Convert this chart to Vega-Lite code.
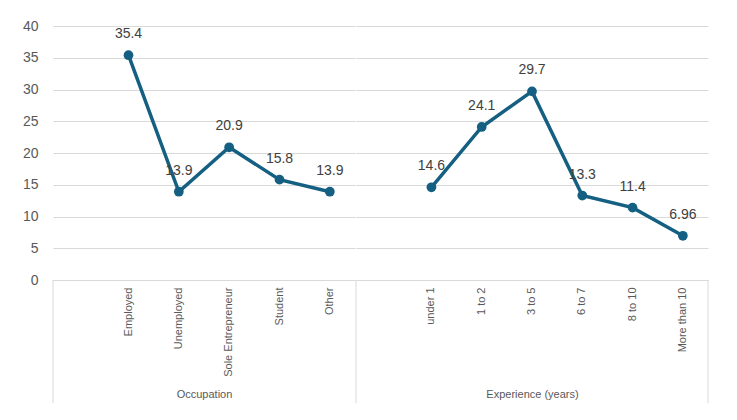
{
  "$schema": "https://vega.github.io/schema/vega-lite/v6.json",
  "background": "white",
  "padding": {"left": 22, "top": 19, "right": 10, "bottom": 5},
  "spacing": 0,
  "config": {
    "view": {"stroke": null},
    "font": "Liberation Sans",
    "axis": {
      "labelFont": "Liberation Sans",
      "titleFont": "Liberation Sans",
      "labelColor": "#595959",
      "titleColor": "#595959",
      "titleFontWeight": "normal",
      "gridColor": "#d9d9d9",
      "domainColor": "#d9d9d9",
      "tickColor": "#d9d9d9"
    }
  },
  "datasets": {
    "occ": [
      {"cat": "Employed", "value": 35.4},
      {"cat": "Unemployed", "value": 13.9},
      {"cat": "Sole Entrepreneur", "value": 20.9},
      {"cat": "Student", "value": 15.8},
      {"cat": "Other", "value": 13.9}
    ],
    "exp": [
      {"cat": "under 1", "value": 14.6},
      {"cat": "1 to 2", "value": 24.1},
      {"cat": "3 to 5", "value": 29.7},
      {"cat": "6 to 7", "value": 13.3},
      {"cat": "8 to 10", "value": 11.4},
      {"cat": "More than 10", "value": 6.96}
    ],
    "occStart": [{"cat": "_a"}],
    "expStart": [{"cat": "_b"}],
    "expEnd": [{"cat": "More than 10"}]
  },
  "resolve": {"scale": {"y": "shared"}},
  "hconcat": [
    {
      "width": 302,
      "height": 254,
      "layer": [
        {
          "data": {"name": "occ"},
          "encoding": {
            "x": {
              "field": "cat",
              "type": "nominal",
              "scale": {"type": "band", "domain": ["_a", "Employed", "Unemployed", "Sole Entrepreneur", "Student", "Other"], "paddingInner": 0, "paddingOuter": 0},
              "axis": {
                "title": "Occupation",
                "titleFontSize": 11,
                "titlePadding": 12,
                "labelAngle": -90,
                "labelFontSize": 11,
                "labelPadding": 7,
                "labelExpr": "indexof(datum.value, '_') == 0 ? '' : datum.label",
                "domain": true,
                "grid": false,
                "ticks": false
              }
            },
            "y": {
              "field": "value",
              "type": "quantitative",
              "scale": {"domain": [0, 40], "nice": false},
              "axis": {
                "title": null,
                "values": [0, 5, 10, 15, 20, 25, 30, 35, 40],
                "grid": true,
                "domain": false,
                "ticks": false,
                "labelPadding": 15,
                "labelFontSize": 14
              }
            }
          },
          "layer": [
            {"mark": {"type": "line", "color": "#156082", "strokeWidth": 3.5}},
            {"mark": {"type": "point", "filled": true, "color": "#156082", "size": 95, "opacity": 1}},
            {"mark": {"type": "text", "dy": -21, "fontSize": 14, "color": "#404040", "font": "Liberation Sans"}, "encoding": {"text": {"field": "value", "type": "quantitative"}}}
          ]
        },
        {
          "data": {"name": "occStart"},
          "mark": {"type": "rule", "color": "#d9d9d9", "strokeWidth": 1, "clip": false},
          "encoding": {
            "x": {
              "field": "cat",
              "type": "nominal",
              "bandPosition": 0,
              "scale": {"type": "band", "domain": ["_a", "Employed", "Unemployed", "Sole Entrepreneur", "Student", "Other"], "paddingInner": 0, "paddingOuter": 0},
              "axis": {
                "title": "Occupation",
                "titleFontSize": 11,
                "titlePadding": 12,
                "labelAngle": -90,
                "labelFontSize": 11,
                "labelPadding": 7,
                "labelExpr": "indexof(datum.value, '_') == 0 ? '' : datum.label",
                "domain": true,
                "grid": false,
                "ticks": false
              }
            },
            "y": {
              "datum": 0,
              "type": "quantitative",
              "scale": {"domain": [0, 40], "nice": false},
              "axis": {
                "title": null,
                "values": [0, 5, 10, 15, 20, 25, 30, 35, 40],
                "grid": true,
                "domain": false,
                "ticks": false,
                "labelPadding": 15,
                "labelFontSize": 14
              }
            },
            "y2": {"datum": -19.4}
          }
        }
      ]
    },
    {
      "width": 352,
      "height": 254,
      "layer": [
        {
          "data": {"name": "exp"},
          "encoding": {
            "x": {
              "field": "cat",
              "type": "nominal",
              "scale": {"type": "band", "domain": ["_b", "under 1", "1 to 2", "3 to 5", "6 to 7", "8 to 10", "More than 10"], "paddingInner": 0, "paddingOuter": 0},
              "axis": {
                "title": "Experience (years)",
                "titleFontSize": 11,
                "titlePadding": 37,
                "labelAngle": -90,
                "labelFontSize": 11,
                "labelPadding": 7,
                "labelExpr": "indexof(datum.value, '_') == 0 ? '' : datum.label",
                "domain": true,
                "grid": false,
                "ticks": false
              }
            },
            "y": {
              "field": "value",
              "type": "quantitative",
              "scale": {"domain": [0, 40], "nice": false},
              "axis": {
                "title": null,
                "values": [0, 5, 10, 15, 20, 25, 30, 35, 40],
                "grid": true,
                "domain": false,
                "ticks": false,
                "labels": false
              }
            }
          },
          "layer": [
            {"mark": {"type": "line", "color": "#156082", "strokeWidth": 3.5}},
            {"mark": {"type": "point", "filled": true, "color": "#156082", "size": 95, "opacity": 1}},
            {"mark": {"type": "text", "dy": -21, "fontSize": 14, "color": "#404040", "font": "Liberation Sans"}, "encoding": {"text": {"field": "value", "type": "quantitative"}}}
          ]
        },
        {
          "data": {"name": "expStart"},
          "mark": {"type": "rule", "color": "#d9d9d9", "strokeWidth": 1, "clip": false},
          "encoding": {
            "x": {
              "field": "cat",
              "type": "nominal",
              "bandPosition": 0,
              "scale": {"type": "band", "domain": ["_b", "under 1", "1 to 2", "3 to 5", "6 to 7", "8 to 10", "More than 10"], "paddingInner": 0, "paddingOuter": 0},
              "axis": {
                "title": "Experience (years)",
                "titleFontSize": 11,
                "titlePadding": 37,
                "labelAngle": -90,
                "labelFontSize": 11,
                "labelPadding": 7,
                "labelExpr": "indexof(datum.value, '_') == 0 ? '' : datum.label",
                "domain": true,
                "grid": false,
                "ticks": false
              }
            },
            "y": {
              "datum": 0,
              "type": "quantitative",
              "scale": {"domain": [0, 40], "nice": false},
              "axis": {
                "title": null,
                "values": [0, 5, 10, 15, 20, 25, 30, 35, 40],
                "grid": true,
                "domain": false,
                "ticks": false,
                "labels": false
              }
            },
            "y2": {"datum": -19.4}
          }
        },
        {
          "data": {"name": "expEnd"},
          "mark": {"type": "rule", "color": "#d9d9d9", "strokeWidth": 1, "clip": false},
          "encoding": {
            "x": {
              "field": "cat",
              "type": "nominal",
              "bandPosition": 1,
              "scale": {"type": "band", "domain": ["_b", "under 1", "1 to 2", "3 to 5", "6 to 7", "8 to 10", "More than 10"], "paddingInner": 0, "paddingOuter": 0},
              "axis": {
                "title": "Experience (years)",
                "titleFontSize": 11,
                "titlePadding": 37,
                "labelAngle": -90,
                "labelFontSize": 11,
                "labelPadding": 7,
                "labelExpr": "indexof(datum.value, '_') == 0 ? '' : datum.label",
                "domain": true,
                "grid": false,
                "ticks": false
              }
            },
            "y": {
              "datum": 0,
              "type": "quantitative",
              "scale": {"domain": [0, 40], "nice": false},
              "axis": {
                "title": null,
                "values": [0, 5, 10, 15, 20, 25, 30, 35, 40],
                "grid": true,
                "domain": false,
                "ticks": false,
                "labels": false
              }
            },
            "y2": {"datum": -19.4}
          }
        }
      ]
    }
  ]
}
